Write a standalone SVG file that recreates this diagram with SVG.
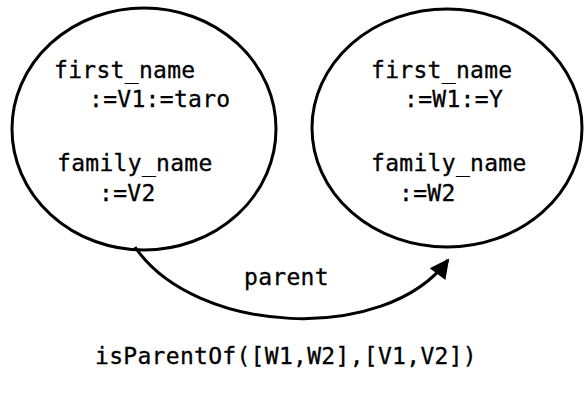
<svg xmlns="http://www.w3.org/2000/svg" width="586" height="394" viewBox="0 0 586 394">
<style>
.node{fill:none;stroke:#000;stroke-width:3}
text{font-family:"DejaVu Sans Mono","Liberation Mono",monospace;font-size:23px;letter-spacing:0.3px;fill:#000;stroke:#000;stroke-width:0.3}
.edge{fill:none;stroke:#000;stroke-width:3}
</style>
<defs>
<marker id="ah" viewBox="0 0 10 10" refX="9" refY="5" markerWidth="8" markerHeight="6.5" markerUnits="strokeWidth" orient="auto">
<path d="M0,0 L10,5 L0,10 Z" fill="#000"/>
</marker>
</defs>
<rect width="586" height="394" fill="#fff"/>
<g id="left">
<ellipse class="node" cx="144" cy="129" rx="132" ry="121"/>
<text x="54" y="78">first_name</text>
<text x="89" y="107">:=V1:=taro</text>
<text x="57" y="171">family_name</text>
<text x="99" y="201">:=V2</text>
</g>
<g id="right">
<ellipse class="node" cx="447" cy="128" rx="135" ry="119"/>
<text x="371" y="78">first_name</text>
<text x="404" y="107">:=W1:=Y</text>
<text x="371" y="171">family_name</text>
<text x="399" y="201">:=W2</text>
</g>
<g id="connectors">
<path class="edge" d="M135,247 C195,335 385,345 448,260" marker-end="url(#ah)"/>
<text x="244" y="285">parent</text>
</g>
<text x="95" y="364">isParentOf([W1,W2],[V1,V2])</text>
</svg>
